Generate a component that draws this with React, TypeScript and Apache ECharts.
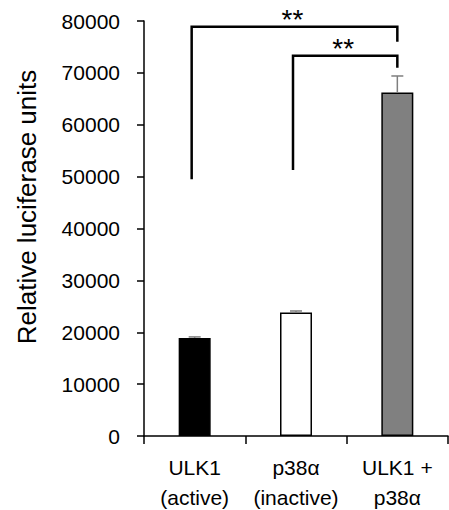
import React, { useEffect, useRef } from "react";
import * as echarts from "echarts";

const categories = ["ULK1\n(active)", "p38α\n(inactive)", "ULK1 +\np38α"];
const values = [18900, 23800, 66200];
const errors = [200, 300, 3200];
const barColors = ["#000000", "#ffffff", "#808080"];
const yMin = 0;
const yMax = 80000;
const yInterval = 10000;
const yTitle = "Relative luciferase units";
// [fromIndex, toIndex, leftLegBottom, rightLegBottom, topValue]
const brackets = [
  [0, 2, 49500, 76000, 78900],
  [1, 2, 51300, 71000, 73300],
];
const bracketLabels = ["**", "**"];

const FONT = "'Liberation Sans', Arial, sans-serif";

export default function App() {
  const ref = useRef<HTMLDivElement>(null);
  useEffect(() => {
    if (!ref.current) return;
    const chart = echarts.init(ref.current, undefined, { renderer: "svg" });
    chart.setOption({
      animation: false,
      backgroundColor: "#ffffff",
      grid: { left: 144, right: 1, top: 21, bottom: 74, outerBoundsMode: "none", containLabel: false },
      xAxis: {
        type: "category",
        data: categories,
        axisLine: { show: true, lineStyle: { color: "#000", width: 1.5 } },
        axisTick: { show: true, length: 8, alignWithLabel: false, lineStyle: { color: "#000", width: 1.5 } },
        axisLabel: {
          interval: 0,
          color: "#000",
          fontSize: 21,
          lineHeight: 30,
          margin: 16,
          fontFamily: FONT,
        },
      },
      yAxis: {
        type: "value",
        min: yMin,
        max: yMax,
        interval: yInterval,
        axisLine: { show: true, lineStyle: { color: "#000", width: 1.5 } },
        axisTick: { show: true, length: 7, lineStyle: { color: "#000", width: 1.5 } },
        splitLine: { show: false },
        axisLabel: {
          color: "#000",
          fontSize: 21,
          margin: 24,
          fontFamily: FONT,
          formatter: (v: number) => String(v),
        },
      },
      graphic: [
        {
          type: "text",
          x: 27,
          y: 207,
          rotation: Math.PI / 2,
          style: {
            text: yTitle,
            x: 0,
            y: 0,
            align: "center",
            verticalAlign: "middle",
            fontSize: 26,
            fontFamily: FONT,
            fill: "#000",
          },
        },
      ],
      series: [
        {
          type: "bar",
          barWidth: 32,
          data: values.map((v, i) => ({
            value: v,
            itemStyle: { color: barColors[i], borderColor: "#000", borderWidth: 1.5 },
          })),
          z: 2,
        },
        {
          type: "custom",
          data: values.map((v, i) => [i, v, v + errors[i]]),
          z: 3,
          renderItem: (params: any, api: any) => {
            const x = api.value(0);
            const p0 = api.coord([x, api.value(1)]);
            const p1 = api.coord([x, api.value(2)]);
            const stroke = { stroke: "#7f7f7f", lineWidth: 1.5 };
            return {
              type: "group",
              children: [
                { type: "line", shape: { x1: p0[0], y1: p0[1], x2: p1[0], y2: p1[1] }, style: stroke },
                { type: "line", shape: { x1: p1[0] - 6, y1: p1[1], x2: p1[0] + 6, y2: p1[1] }, style: stroke },
              ],
            };
          },
        },
        {
          type: "custom",
          data: brackets,
          z: 4,
          renderItem: (params: any, api: any) => {
            const a = api.value(0);
            const b = api.value(1);
            const pl = api.coord([a, api.value(2)]);
            const pr = api.coord([b, api.value(3)]);
            const tl = api.coord([a, api.value(4)]);
            const tr = api.coord([b, api.value(4)]);
            const lx = pl[0] - 3;
            const rx = pr[0];
            return {
              type: "group",
              children: [
                {
                  type: "polyline",
                  shape: { points: [[lx, pl[1]], [lx, tl[1]], [rx, tr[1]], [rx, pr[1]]] },
                  style: { stroke: "#000", lineWidth: 2.5, fill: "none" },
                },
                {
                  type: "text",
                  style: {
                    text: bracketLabels[params.dataIndex],
                    x: (lx + rx) / 2 - 2,
                    y: tl[1] - 7,
                    align: "center",
                    verticalAlign: "middle",
                    fontSize: 28,
                    fontFamily: FONT,
                    fill: "#000",
                  },
                },
              ],
            };
          },
        },
      ],
    });
    return () => chart.dispose();
  }, []);
  return (
    <div
      ref={ref}
      style={{ position: "fixed", left: 0, top: 0, width: 449, height: 510, background: "#fff" }}
    />
  );
}
